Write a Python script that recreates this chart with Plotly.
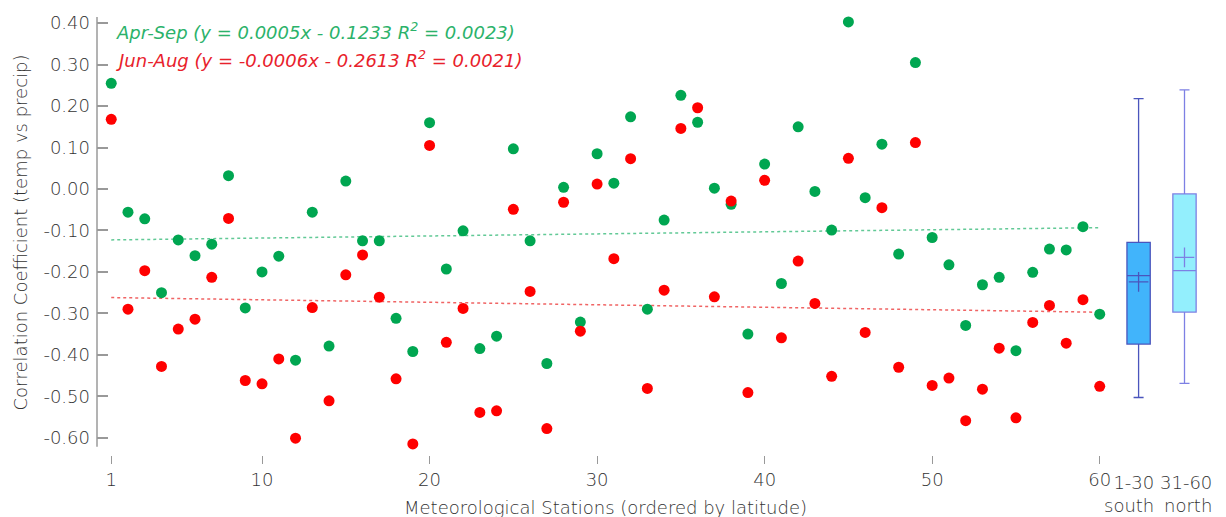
import plotly.graph_objects as go

stations = list(range(1, 61))
apr_sep = [0.255, -0.056, -0.072, -0.250, -0.123, -0.161, -0.133, 0.032, -0.287, -0.200,
           -0.162, -0.413, -0.056, -0.379, 0.019, -0.125, -0.125, -0.312, -0.392, 0.160,
           -0.193, -0.101, -0.385, -0.355, 0.097, -0.125, -0.421, 0.004, -0.321, 0.085,
           0.014, 0.174, -0.290, -0.075, 0.226, 0.161, 0.002, -0.037, -0.350, 0.060,
           -0.228, 0.150, -0.006, -0.099, 0.403, -0.021, 0.108, -0.157, 0.305, -0.117,
           -0.183, -0.329, -0.231, -0.213, -0.390, -0.201, -0.145, -0.147, -0.091, -0.302]
jun_aug = [0.168, -0.290, -0.197, -0.428, -0.338, -0.314, -0.213, -0.071, -0.462, -0.470,
           -0.410, -0.601, -0.286, -0.511, -0.207, -0.159, -0.261, -0.458, -0.615, 0.105,
           -0.370, -0.288, -0.539, -0.535, -0.049, -0.247, -0.578, -0.032, -0.343, 0.012,
           -0.168, 0.073, -0.481, -0.244, 0.146, 0.196, -0.260, -0.029, -0.491, 0.021,
           -0.359, -0.174, -0.276, -0.452, 0.074, -0.346, -0.045, -0.430, 0.112, -0.474,
           -0.456, -0.559, -0.483, -0.384, -0.552, -0.322, -0.281, -0.372, -0.267, -0.476]

# regression lines (from the reference legend text)
fit_x = [1, 60]
apr_sep_fit = [0.0005 * x - 0.1233 for x in fit_x]
jun_aug_fit = [-0.0006 * x - 0.2613 for x in fit_x]

# box summaries
box_names = ["1-30<br>south", "31-60<br>north"]
box_pos = [62.32, 65.06]
box_label_right = [63.33, 66.83]
box_q1 = [-0.374, -0.297]
box_median = [-0.209, -0.197]
box_q3 = [-0.129, -0.012]
box_low = [-0.503, -0.469]
box_high = [0.218, 0.239]
box_mean = [-0.224, -0.165]
box_fill = ["#41b4fb", "#93effd"]
box_line = ["#4a55bd", "#7d80e4"]

yticks = [0.4, 0.3, 0.2, 0.1, 0.0, -0.1, -0.2, -0.3, -0.4, -0.5, -0.6]
ytext = [f"{v:.2f}" for v in yticks]
xticks = [1, 10, 20, 30, 40, 50, 60]

FONT = "DejaVu Sans"
FS = 18
GREEN = "#00a651"
RED = "#ff0000"
TXT = "#333333"

def f(color=TXT, size=FS):
    return dict(family=FONT, size=size, color=color, weight=200)

fig = go.Figure()

fig.add_trace(go.Scatter(x=fit_x, y=apr_sep_fit, mode="lines",
                         line=dict(color="#62c996", width=1.5, dash="dot"), hoverinfo="skip"))
fig.add_trace(go.Scatter(x=fit_x, y=jun_aug_fit, mode="lines",
                         line=dict(color="#f06464", width=1.5, dash="dot"), hoverinfo="skip"))
fig.add_trace(go.Scatter(x=stations, y=apr_sep, mode="markers", name="Apr-Sep",
                         marker=dict(color=GREEN, size=11)))
fig.add_trace(go.Scatter(x=stations, y=jun_aug, mode="markers", name="Jun-Aug",
                         marker=dict(color=RED, size=11)))

for i in range(2):
    fig.add_trace(go.Box(x=[box_pos[i]], q1=[box_q1[i]], median=[box_median[i]],
                         q3=[box_q3[i]], lowerfence=[box_low[i]], upperfence=[box_high[i]],
                         width=1.39, whiskerwidth=0.43, fillcolor=box_fill[i],
                         line=dict(color=box_line[i], width=1.3), boxpoints=False,
                         hoverinfo="skip"))
    fig.add_trace(go.Scatter(x=[box_pos[i]], y=[box_mean[i]], mode="markers",
                             marker=dict(symbol="cross-thin", size=14,
                                         line=dict(color=box_line[i], width=1.3)),
                             hoverinfo="skip"))

# y axis line (shorter than plot area)
fig.add_shape(type="line", xref="paper", yref="y", x0=0, x1=0, y0=-0.622, y1=0.415,
              line=dict(color="#9a9a9a", width=1.5))

fig.add_annotation(x=0.0155, xref="paper", y=0.38, yref="y", xanchor="left", yanchor="middle",
                   text="<i>Apr-Sep (y = 0.0005x - 0.1233 R<sup>2</sup> = 0.0023)</i>",
                   showarrow=False, font=f("#2bb26a"))
fig.add_annotation(x=0.0155, xref="paper", y=0.313, yref="y", xanchor="left", yanchor="middle",
                   text="<i>Jun-Aug (y = -0.0006x - 0.2613 R<sup>2</sup> = 0.0021)</i>",
                   showarrow=False, font=f("#e8212b"))

for i in range(2):
    fig.add_annotation(x=box_label_right[i], xref="x", y=-0.034, yref="paper",
                       yanchor="top", xanchor="right", align="right",
                       text=box_names[i], showarrow=False, font=f())

fig.add_annotation(x=30.5, xref="x", y=-0.117, yref="paper", yanchor="middle",
                   text="Meteorological Stations (ordered by latitude)", showarrow=False,
                   font=f())

fig.update_layout(
    width=1226, height=517,
    margin=dict(l=97, r=9, t=10, b=62, autoexpand=False),
    paper_bgcolor="white", plot_bgcolor="white",
    showlegend=False,
    font=f(),
    xaxis=dict(range=[0.15, 67], tickvals=xticks, ticks="outside", ticklen=8,
               tickcolor="#999999", tickwidth=1, showgrid=False, zeroline=False,
               showline=False, automargin=False, tickfont=f()),
    yaxis=dict(range=[-0.6417, 0.4318], tickvals=yticks, ticktext=ytext,
               ticks="inside", ticklen=11, tickcolor="#999999", tickwidth=1.5,
               ticklabelstandoff=6,
               showgrid=False, zeroline=False, showline=False, automargin=False,
               tickfont=f(),
               title=dict(text="Correlation Coefficient (temp vs precip)", standoff=11,
                          font=f())),
)

fig.write_html("out.html", config={"displayModeBar": False},
               post_script="document.body.style.margin='0';document.body.style.overflow='hidden';")
